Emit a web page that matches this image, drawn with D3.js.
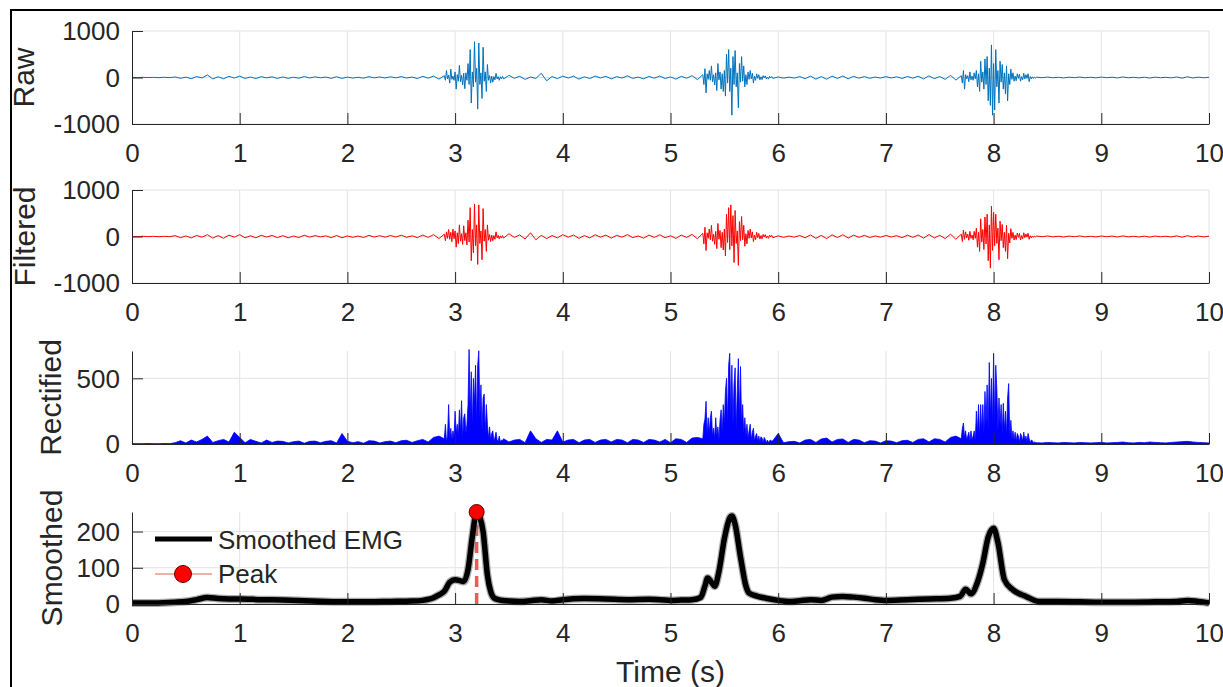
<!DOCTYPE html>
<html>
<head>
<meta charset="utf-8">
<script src="https://cdn.jsdelivr.net/npm/d3@7"></script>
<style>
  html, body { margin: 0; padding: 0; background: #fff; }
  svg { display: block; }
  text { font-family: "Liberation Sans", Arial, sans-serif; }
</style>
</head>
<body>
<div id="chart"></div>
<script>
// Time grid: segments of samples (start time, step in s)
const segStart = [0, 2.9, 3.45, 5.3, 5.95, 7.7, 8.4];
const segStep = [0.05, 0.01, 0.05, 0.01, 0.05, 0.01, 0.05];

// Raw EMG
const rawValues = [
  [2, -3, 4, -2, 3, -4, 5, -3,
   12, -18, 8, -25, 20, -10, 55, -30, 15, -28,
   25, -12, 30, -20, 10, -22, 18, -8, 15, -20,
   12, -18, 6, -15, 20, -10, 14, -6, 10, -18,
   16, -20, 8, -12, 5, -15, 18, -8, 12, -10,
   15, -8, 20, -12, 10, -22, 25, -15, 30, -35],
  [40, -60, 150, -30, 50, -120, 180, -40, 30, -60,
   120, -250, 60, -80, 260, -90, 50, -160, 90, -240,
   100, -60, 300, -150, 600, -550, 120, -200, 770, -100,
   200, -680, 740, -150, 100, -450, 650, -80, 120, -300,
   280, -60, 40, -120, 30, -100, 20, -50, 90, -30,
   20, -60, 15, -30, 25],
  [-30, 45, -15, 25, -40, 12, -20, 90, -70, 20,
   -25, 30, -12, 28, -35, 15, -22, 30, -10, 25,
   -30, 18, -12, 35, -20, 10, -28, 22, -15, 30,
   -20, 12, -35, 25, -15, 40, -45],
  [60, -150, 190, -330, 80, -40, 150, -60, 250, -90,
   60, -160, 100, -280, 300, -50, 120, -250, 80, -300,
   150, -400, 500, -120, 600, -300, 200, -810, 450, -150,
   580, -200, 100, -650, 300, -100, 450, -80, 250, -200,
   60, -150, 120, -40, 150, -30, 90, -120, 30, -60,
   80, -20, 60, -50, 15, -45, 40, -10, 35, -30,
   10, -35, 25, -10, 20],
  [-20, 12, -15, 8, -12, 20, -25, 30, -35, 20,
   -38, 30, -20, 32, -28, 25, -15, 20, -18, 10,
   -12, 18, -10, 15, -20, 22, -15, 28, -30, 35,
   -25, 20, -40, 45, -55],
  [40, -120, 150, -250, 60, -30, 40, -90, 120, -50,
   30, -60, 100, -30, 150, -200, 80, -300, 350, -100,
   120, -250, 400, -150, 450, -500, 200, -600, 700, -810,
   300, -700, 600, -200, 150, -550, 350, -100, 280, -250,
   100, -350, 250, -500, 80, -150, 180, -40, 100, -80,
   30, -70, 80, -20, 70, -80, 20, -50, 90, -30,
   60, -20, 80, -90, 20, -30, 15, -20, 10, -8],
  [8, -5, 10, -6, 4, -9, 7, -4, 10, -6,
   5, -8, 9, -4, 7, -10, 12, -6, 4, -9,
   6, -12, 8, -5, 4, -8, 12, -15, 16, -10,
   8, -6, 5]
];

// Filtered EMG
const filteredValues = [
  [3, -4, 5, -3, 4, -5, 4, -3,
   18, -25, 12, -30, 22, -15, 40, -35, 20, -38,
   30, -15, 40, -28, 15, -28, 25, -12, 22, -25,
   18, -28, 10, -22, 28, -15, 20, -10, 15, -25,
   22, -28, 12, -18, 10, -22, 25, -12, 18, -15,
   22, -12, 28, -18, 15, -25, 32, -20, 40, -45],
  [50, -90, 100, -40, 150, -60, 90, -110, 160, -50,
   120, -230, 80, -150, 250, -100, 60, -170, 230, -90,
   80, -180, 350, -120, 620, -520, 150, -350, 700, -200,
   250, -600, 680, -150, 120, -500, 600, -100, 150, -320,
   250, -80, 40, -110, 30, -90, 20, -60, 100, -30,
   25, -50, 15, -35, 20],
  [-35, 60, -20, 35, -55, 80, -70, 25, -45, 20,
   -30, 40, -15, 32, -40, 20, -30, 38, -15, 30,
   -35, 25, -15, 40, -25, 12, -35, 30, -20, 38,
   -25, 15, -40, 30, -20, 45, -50],
  [70, -160, 200, -300, 80, -40, 160, -70, 240, -100,
   50, -170, 110, -260, 280, -60, 130, -240, 90, -290,
   160, -420, 480, -130, 620, -280, 680, -200, 450, -560,
   560, -150, 120, -620, 320, -90, 430, -70, 240, -210,
   60, -160, 130, -40, 160, -30, 100, -110, 30, -70,
   90, -25, 65, -55, 20, -50, 45, -12, 40, -35,
   12, -40, 30, -10, 25],
  [-25, 15, -18, 10, -15, 22, -28, 35, -40, 25,
   -45, 35, -22, 38, -32, 28, -18, 25, -22, 12,
   -15, 22, -12, 18, -25, 28, -18, 32, -35, 42,
   -30, 25, -45, 50, -60],
  [50, -110, 140, -60, 100, -30, 50, -80, 110, -40,
   30, -70, 110, -40, 180, -230, 90, -320, 380, -120,
   150, -280, 420, -160, 480, -520, 250, -680, 650, -300,
   520, -200, 480, -150, 180, -500, 330, -90, 260, -240,
   90, -320, 240, -480, 70, -140, 170, -40, 90, -75,
   30, -65, 75, -20, 65, -75, 20, -50, 80, -25,
   55, -15, 70, -60, 15, -28, 12, -18, 8, -6],
  [10, -6, 12, -8, 5, -11, 9, -5, 12, -8,
   6, -10, 11, -5, 9, -12, 14, -8, 5, -11,
   8, -14, 10, -6, 5, -10, 14, -16, 18, -12,
   10, -8, 6]
];

// Rectified EMG
const rectifiedValues = [
  [1, 2, 1, 3, 2, 1, 3, 2,
   10, 25, 8, 30, 15, 35, 60, 12, 25, 35,
   15, 90, 50, 10, 35, 20, 8, 30, 12, 22,
   20, 8, 18, 22, 6, 20, 22, 10, 20, 25,
   8, 80, 20, 10, 18, 6, 25, 22, 8, 18,
   22, 10, 25, 28, 12, 25, 35, 15, 50, 60],
  [40, 150, 20, 60, 300, 40, 120, 30, 100, 50,
   250, 80, 150, 60, 260, 90, 330, 40, 200, 230,
   80, 150, 300, 720, 200, 550, 120, 500, 300, 600,
   150, 600, 710, 200, 450, 100, 350, 380, 80, 300,
   150, 40, 130, 30, 80, 100, 20, 50, 90, 30,
   20, 60, 15, 30, 25],
  [40, 15, 30, 35, 10, 100, 40, 12, 35, 30,
   100, 15, 30, 35, 10, 30, 35, 12, 30, 35,
   15, 35, 30, 10, 35, 30, 12, 35, 30, 15,
   35, 10, 40, 35, 12, 45, 50],
  [40, 150, 190, 325, 60, 200, 80, 200, 250, 60,
   120, 40, 200, 60, 130, 30, 180, 260, 80, 300,
   150, 400, 500, 150, 600, 690, 200, 600, 150, 450,
   580, 100, 400, 650, 200, 590, 150, 300, 80, 200,
   60, 150, 40, 100, 150, 30, 90, 120, 20, 60,
   80, 20, 60, 15, 55, 45, 10, 50, 35, 10,
   30, 10, 25, 30, 20],
  [25, 80, 10, 18, 20, 8, 30, 35, 12, 38,
   45, 15, 35, 38, 12, 35, 30, 10, 25, 22,
   8, 25, 22, 10, 25, 28, 12, 35, 40, 15,
   40, 35, 15, 50, 60],
  [40, 120, 160, 50, 100, 30, 60, 90, 20, 100,
   30, 60, 100, 20, 250, 80, 300, 50, 300, 100,
   300, 80, 400, 150, 450, 100, 620, 200, 500, 150,
   690, 150, 600, 420, 100, 350, 150, 300, 80, 310,
   100, 250, 60, 350, 460, 50, 180, 40, 100, 30,
   90, 20, 80, 60, 10, 80, 60, 20, 90, 30,
   60, 15, 80, 40, 10, 30, 25, 8, 15, 12],
  [10, 8, 12, 10, 8, 12, 10, 8, 12, 10,
   8, 10, 12, 8, 10, 12, 15, 10, 8, 12,
   10, 15, 12, 10, 8, 12, 15, 18, 20, 15,
   12, 10, 8]
];

// Smoothed envelope
const smoothT = [0, 0.2, 0.4, 0.5, 0.6, 0.7, 0.8, 0.9, 1.0, 1.2, 1.4, 1.6, 1.8, 2.0, 2.2, 2.4, 2.6, 2.7,
  2.8, 2.85, 2.9, 2.95, 3.0, 3.05, 3.08, 3.12, 3.16, 3.2, 3.23, 3.26, 3.3, 3.33, 3.36, 3.4, 3.5, 3.6,
  3.7, 3.8, 3.9, 4.0, 4.2, 4.4, 4.6, 4.8, 4.9, 5.0, 5.1, 5.2, 5.28, 5.32, 5.345, 5.38, 5.41, 5.45,
  5.5, 5.55, 5.57, 5.6, 5.65, 5.7, 5.73, 5.8, 5.9, 6.0, 6.1, 6.2, 6.3, 6.4, 6.5, 6.6, 6.7, 6.8, 6.9,
  7.0, 7.2, 7.4, 7.6, 7.69, 7.74, 7.79, 7.85, 7.9, 7.95, 8.0, 8.04, 8.1, 8.18, 8.3, 8.42, 8.6, 8.8,
  9.0, 9.2, 9.5, 9.7, 9.8, 9.9, 10];
const smoothV = [3, 3, 5, 7, 12, 18, 15, 14, 14, 12, 11, 9, 7, 6, 6, 7, 8, 10,
  17, 25, 35, 60, 67, 64, 62, 95, 186, 254, 240, 200, 80, 35, 17, 12, 8, 7,
  9, 12, 8, 12, 15, 14, 12, 13, 12, 10, 11, 12, 18, 50, 72, 60, 49, 90,
  180, 238, 243, 220, 130, 50, 30, 22, 15, 10, 7, 9, 12, 10, 19, 21, 19, 16, 12,
  10, 12, 14, 16, 21, 41, 28, 60, 113, 185, 209, 170, 67, 39, 21, 7, 7, 6,
  5, 5, 6, 7, 10, 7, 3];

const peakT = 3.2;
const peakV = 254;

const xTicks = [0, 1, 2, 3, 4, 5, 6, 7, 8, 9, 10];

function expand(values) {
  return values.flatMap((seg, k) => seg.map((v, i) => [segStart[k] + i * segStep[k], v]));
}

const panels = [
  { label: "Raw", domain: [-1000, 1000], ticks: [-1000, 0, 1000], top: 31, bottom: 124,
    data: expand(rawValues), color: "#0072BD", labelX: 34 },
  { label: "Filtered", domain: [-1000, 1000], ticks: [-1000, 0, 1000], top: 190, bottom: 283,
    data: expand(filteredValues), color: "#ff0000", labelX: 35 },
  { label: "Rectified", domain: [0, 708], ticks: [0, 500], top: 351, bottom: 444,
    data: expand(rectifiedValues), color: "#0000ff", labelX: 61, area: true },
  { label: "Smoothed", domain: [0, peakV], ticks: [0, 100, 200], top: 512, bottom: 604,
    data: smoothT.map((t, i) => [t, smoothV[i]]), color: "#000", labelX: 62, smooth: true }
];

const W = 1223, H = 687;
const svg = d3.select("#chart").append("svg").attr("width", W).attr("height", H);
svg.append("rect").attr("width", W).attr("height", H).attr("fill", "#fff");

// outer frame (only left/top visible in the crop)
svg.append("rect")
  .attr("x", 11).attr("y", 10).attr("width", 1400).attr("height", 900)
  .attr("fill", "none").attr("stroke", "#000").attr("stroke-width", 2);

const x = d3.scaleLinear().domain([0, 10]).range([132, 1209]);
const axisColor = "#262626";

panels.forEach(p => {
  const y = d3.scaleLinear().domain(p.domain).range([p.bottom, p.top]);
  const g = svg.append("g");

  // grid
  g.selectAll("line.vgrid").data(xTicks.slice(1)).join("line")
    .attr("x1", d => x(d)).attr("x2", d => x(d))
    .attr("y1", p.top).attr("y2", p.bottom)
    .attr("stroke", "#e3e3e3").attr("stroke-width", 1);
  g.selectAll("line.hgrid").data(p.ticks).join("line")
    .attr("x1", x(0)).attr("x2", x(10))
    .attr("y1", d => y(d)).attr("y2", d => y(d))
    .attr("stroke", "#e3e3e3").attr("stroke-width", 1);

  // data
  if (p.area) {
    g.append("path").datum(p.data)
      .attr("d", d3.area().x(d => x(d[0])).y0(y(0)).y1(d => y(d[1])))
      .attr("fill", p.color).attr("stroke", p.color).attr("stroke-width", 0.8);
  } else if (p.smooth) {
    const line = d3.line().x(d => x(d[0])).y(d => y(d[1])).curve(d3.curveMonotoneX);
    // dashed marker line at the peak
    g.append("line")
      .attr("x1", x(peakT)).attr("x2", x(peakT))
      .attr("y1", y(0)).attr("y2", y(peakV))
      .attr("stroke", "#ee5a5a").attr("stroke-width", 3.5)
      .attr("stroke-dasharray", "11,6");
    g.append("path").datum(p.data).attr("d", line)
      .attr("fill", "none").attr("stroke", "#777").attr("stroke-opacity", 0.6)
      .attr("stroke-width", 8).attr("stroke-linejoin", "round");
    g.append("path").datum(p.data).attr("d", line)
      .attr("fill", "none").attr("stroke", "#000")
      .attr("stroke-width", 5.5).attr("stroke-linejoin", "round");
    g.append("circle")
      .attr("cx", x(peakT)).attr("cy", y(peakV)).attr("r", 7.5)
      .attr("fill", "#ff0000").attr("stroke", "#600").attr("stroke-width", 1);
  } else {
    g.append("path").datum(p.data)
      .attr("d", d3.line().x(d => x(d[0])).y(d => y(d[1])))
      .attr("fill", "none").attr("stroke", p.color).attr("stroke-width", 1);
  }

  // axes
  const xa = g.append("g").attr("transform", `translate(0,${p.bottom})`)
    .call(d3.axisBottom(x).tickValues(xTicks).tickFormat(d => String(d))
      .tickSize(-11).tickSizeOuter(0).tickPadding(20));
  const ya = g.append("g").attr("transform", `translate(${x(0)},0)`)
    .call(d3.axisLeft(y).tickValues(p.ticks).tickFormat(d => String(d))
      .tickSize(-11).tickSizeOuter(0).tickPadding(12));
  [xa, ya].forEach(a => {
    a.select(".domain").attr("stroke", axisColor);
    a.selectAll(".tick line").attr("stroke", axisColor);
    a.selectAll(".tick text").attr("fill", axisColor)
      .style("font-family", '"Liberation Sans", Arial, sans-serif').style("font-size", "26px");
  });
  ya.selectAll(".tick text").attr("dy", "0.34em");

  // y label
  svg.append("text")
    .attr("transform", `translate(${p.labelX},${(p.top + p.bottom) / 2}) rotate(-90)`)
    .attr("text-anchor", "middle")
    .style("font-size", "30px").attr("fill", axisColor)
    .text(p.label);
});

// x label
svg.append("text")
  .attr("x", (x(0) + x(10)) / 2).attr("y", 682)
  .attr("text-anchor", "middle")
  .style("font-size", "30px").attr("fill", axisColor)
  .text("Time (s)");

// legend
const legend = svg.append("g");
legend.append("line").attr("x1", 155).attr("x2", 212).attr("y1", 539).attr("y2", 539)
  .attr("stroke", "#000").attr("stroke-width", 5);
legend.append("text").attr("x", 218).attr("y", 549)
  .style("font-size", "26px").attr("fill", axisColor).text("Smoothed EMG");
legend.append("line").attr("x1", 155).attr("x2", 212).attr("y1", 574).attr("y2", 574)
  .attr("stroke", "#d9694a").attr("stroke-width", 1);
legend.append("circle").attr("cx", 183).attr("cy", 574).attr("r", 8.5)
  .attr("fill", "#ff0000").attr("stroke", "#600").attr("stroke-width", 1);
legend.append("text").attr("x", 218).attr("y", 583)
  .style("font-size", "26px").attr("fill", axisColor).text("Peak");
</script>
</body>
</html>
